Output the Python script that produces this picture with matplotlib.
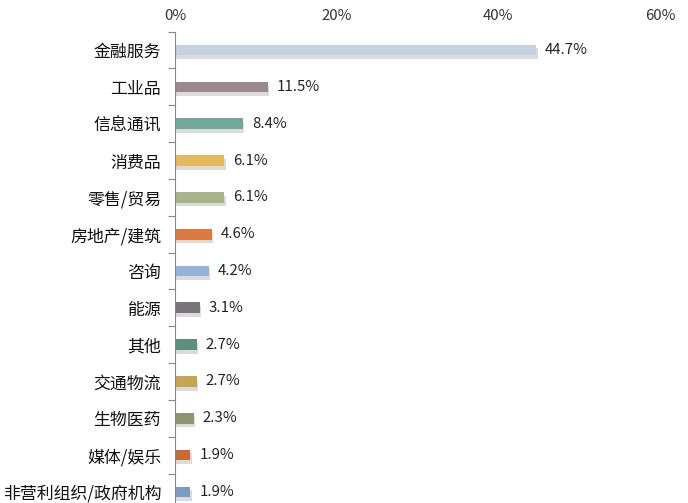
import numpy as np
import matplotlib

matplotlib.use("Agg")
import matplotlib.pyplot as plt
from matplotlib.ticker import FuncFormatter

plt.rcParams["font.family"] = ["Noto Sans CJK SC", "DejaVu Sans"]

CATEGORIES = ["金融服务", "工业品", "信息通讯", "消费品", "零售/贸易", "房地产/建筑", "咨询",
              "能源", "其他", "交通物流", "生物医药", "媒体/娱乐", "非营利组织/政府机构"]
VALUES = [44.7, 11.5, 8.4, 6.1, 6.1, 4.6, 4.2, 3.1, 2.7, 2.7, 2.3, 1.9, 1.9]
COLORS = ["#c3d1e0", "#9a8a90", "#72a897", "#e5b95a", "#a8b58a", "#e0793f", "#94b3da",
          "#7a7578", "#5e8f7d", "#c7a450", "#8c9673", "#c96a36", "#7c9bc2"]
XTICKS = [0, 20, 40, 60]

fig = plt.figure(figsize=(6.88, 5.03), dpi=100)
ax = fig.add_axes([175 / 688, 1 - 510.4 / 503, 485 / 688, 478.8 / 503])

y = np.arange(len(CATEGORIES))
bh = 0.29
# soft drop shadow under each bar
ax.barh(y + 0.1, VALUES, height=bh, left=0.15, color="#8a8a8a", alpha=0.3, zorder=1)
ax.barh(y, VALUES, height=bh, color=COLORS, zorder=2)

for yi, v in zip(y, VALUES):
    ax.text(v + 1.1, yi, f"{v:.1f}%", va="center", ha="left", fontsize=10.8, color="#222222")

ax.set_xlim(0, 60)
ax.set_ylim(len(CATEGORIES) - 0.5, -0.5)
ax.set_xticks(XTICKS)
ax.xaxis.set_major_formatter(FuncFormatter(lambda v, _: f"{v:.0f}%"))
ax.xaxis.tick_top()
ax.tick_params(axis="x", length=0, pad=6, labelsize=10.8, labelcolor="#333333")

ax.set_yticks(y)
ax.set_yticklabels(CATEGORIES, fontsize=12.2, color="#111111")
ax.set_yticks(np.arange(len(CATEGORIES) + 1) - 0.5, minor=True)
ax.tick_params(axis="y", which="major", length=0, pad=10)
ax.tick_params(axis="y", which="minor", length=5, color="#888888", width=0.8)

for s in ("top", "right", "bottom"):
    ax.spines[s].set_visible(False)
ax.spines["left"].set_color("#888888")
ax.spines["left"].set_linewidth(0.8)

fig.savefig("out.png", dpi=100)
